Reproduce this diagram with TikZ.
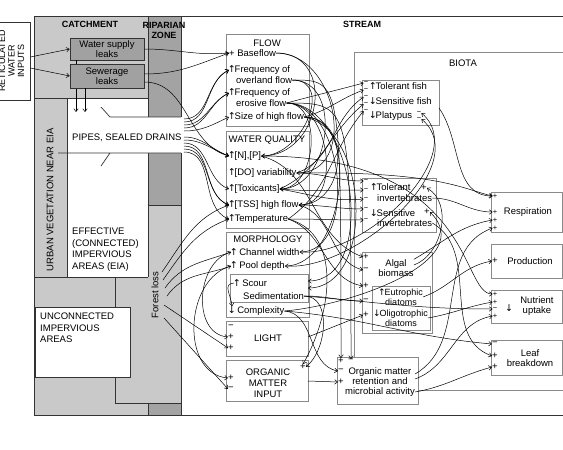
\documentclass[tikz,border=0pt]{standalone}
\usepackage{fontspec}
\setmainfont{Liberation Sans}
\newfontfamily\arwfont{DejaVu Sans}
\usetikzlibrary{arrows.meta,positioning,calc}
\definecolor{Catch}{HTML}{C9C9C9}
\definecolor{Ripar}{HTML}{A3A3A3}
\definecolor{Frame}{HTML}{333333}
\definecolor{BoxLine}{HTML}{8A8A8A}
\newcommand\fs{\fontsize{9.5}{10}\selectfont}
\newcommand\fc{\fontsize{9.5}{11.5}\selectfont}
\newcommand\up{\makebox[5.5pt][c]{\arwfont ↑}}
\newcommand\dn{\makebox[5.5pt][c]{\arwfont ↓}}
\tikzset{
 zone/.style={draw=Frame,line width=.7pt},
 grp/.style={draw=BoxLine,line width=.6pt,fill=white},
 leak/.style={draw=Frame,fill=Catch!80!black,line width=.6pt,align=center,font=\fs,minimum width=74pt,inner sep=0pt},
 hd/.style={font=\fontsize{9}{10}\selectfont\bfseries,inner sep=0pt,align=center},
 ttl/.style={font=\fs,inner sep=0pt,align=center},
 itm/.style={font=\fs,inner sep=0pt,anchor=west},
 sg/.style={font=\fs,inner sep=0pt},
 sgs/.style={font=\fontsize{7.5}{7.5}\selectfont,inner sep=0pt},
 lbl/.style={font=\fc,inner sep=0pt,align=left},
 arr/.style={-{Straight Barb[length=3pt,width=4.5pt]},line width=.5pt},
}
\begin{document}
\begin{tikzpicture}[x=1pt,y=-1pt]
\useasboundingbox (0,0) rectangle (563,450);
% catchment and riparian zone
\fill[Catch] (34,16) rectangle (181,415);
\fill[Ripar] (148,16) rectangle (181,117);
\fill[Ripar] (148,153) rectangle (181,205);
\fill[Ripar] (148,403) rectangle (181,415);
\fill[white] (67,98) rectangle (148,277) (148,117) rectangle (181,153);
\draw[zone] (563,16) -- (34,16) -- (34,415) -- (563,415);
\draw[zone] (181,16) -- (181,117) (181,153) -- (181,415);
\draw[zone] (148,16) -- (148,117) (34,98) -- (148,98) (67,98) -- (67,277) (34,277) -- (148,277) (148,153) -- (148,277) (148,205) -- (181,205);
\draw[zone] (115,277) -- (115,403) -- (181,403) (148,403) -- (148,415);
\draw[zone] (101,107) -- (110,117) -- (181,117) (58,153) -- (181,153) (110,153) -- (101,166);
\draw[zone,fill=white] (35,307) rectangle (130,377);
\node[zone,fill=white,minimum width=44pt,minimum height=78pt,inner sep=0pt] (rwb) at (8,61) {};
\node[font=\fontsize{9}{9.5}\selectfont,rotate=90,align=center,inner sep=0pt] (rwt) at (11.5,61) {RETICULATED\\WATER\\INPUTS};
\node[hd] (catch) at (90,24) {CATCHMENT};
\node[hd] (ripz) at (164,30) {RIPARIAN\\ZONE};
\node[hd] (strm) at (362,24) {STREAM};
\node[leak,minimum height=22pt] (wsl) at (107,49) {Water supply\\leaks};
\coordinate (pin1) at (76,112);
\coordinate (pin2) at (85,112);
\draw[arr] (wsl.south -| pin1) -- (pin1);
\node[leak,minimum height=24pt] (swl) at (107,76) {Sewerage\\leaks};
\draw[arr] (swl.south -| pin2) -- (pin2);
\draw[arr] ([yshift=4pt]rwb.east) -- (wsl.west);
\draw[arr] ([yshift=-7pt]rwb.east) -- (swl.west);
\node[lbl,anchor=west] (pip) at (72,138) {PIPES, SEALED DRAINS};
\node[lbl,rotate=90] (veg) at (50,200) {URBAN VEGETATION NEAR EIA};
\node[lbl,anchor=north west] (eia) at (72,228) {EFFECTIVE\\(CONNECTED)\\IMPERVIOUS\\AREAS (EIA)};
\node[lbl,anchor=north west] (uia) at (40,313) {UNCONNECTED\\IMPERVIOUS\\AREAS};
\node[lbl,rotate=90] (fst) at (155,295) {Forest loss};

% stream groups
\draw[grp] (226,34) rectangle (309,126);
\draw[grp] (226,131) rectangle (309,228);
\draw[grp] (226,232) rectangle (309,317);
\draw[grp] (230,274) rectangle (308,302);
\draw[grp] (226,321) rectangle (308,356);
\draw[grp] (226,360) rectangle (308,401);
\draw[grp] (354,52) rectangle (580,390);
\draw[grp] (362,80) rectangle (439,125);
\draw[grp] (362,178) rectangle (436,232);
\draw[grp] (362,252) rectangle (432,333);
\draw[grp] (372,286) rectangle (430,330);
\draw[grp] (337,357) rectangle (418,404);
\draw[grp] (491,192) rectangle (562,232);
\draw[grp] (491,244) rectangle (562,278);
\draw[grp] (491,290) rectangle (562,323);
\draw[grp] (491,340) rectangle (562,375);

\node[ttl] (flw) at (267,43) {FLOW};
\node[itm] (bsf) at (229,53) {+ Baseflow};
\node[itm] (ovl) at (229,70) {\up Frequency of};
\node[itm] (ovl2) at (236,80) {overland flow};
\node[itm] (ero) at (229,93) {\up Frequency of};
\node[itm] (ero2) at (236,103) {erosive flow};
\node[itm] (hif) at (229,117) {\up Size of high flow};
\node[ttl] (wqt) at (267,140) {WATER QUALITY};
\node[itm] (np) at (229,156) {\up[N],[P]};
\node[itm] (dov) at (229,173) {\up[DO] variability};
\node[itm] (tox) at (229,189) {\up[Toxicants]};
\node[itm] (tss) at (229,205) {\up[TSS] high flow};
\node[itm] (tmp) at (229,219) {\up Temperature};
\node[ttl] (mot) at (268,239) {MORPHOLOGY};
\node[itm] (chw) at (231,252) {\up\ Channel width};
\node[itm] (pod) at (231,266) {\up\ Pool depth};
\node[itm] (scr) at (234,283) {\up\ Scour};
\node[itm] (sed) at (243,296) {Sedimentation};
\node[itm] (cpx) at (229,311) {\dn\ Complexity};
\node[ttl] (lgt) at (268,338) {LIGHT};
\node[sg] (l1) at (231,327) {−};
\node[sg] (l2) at (231,337) {+};
\node[sg] (l3) at (231,348) {+};
\node[ttl,font=\fontsize{9.5}{11}\selectfont] (omi) at (268,383) {ORGANIC\\MATTER\\INPUT};
\node[sg] (o1) at (231,378) {+};
\node[sg] (o2) at (231,389) {−};
\node[sg] (o3) at (303,367) {+};
\coordinate (lgo) at (308,337);
\coordinate (omo) at (308,381);
\coordinate (scb) at (308,281);
\coordinate (scb2) at (308,288);

% biota and functions
\node[ttl] (biot) at (463,63) {BIOTA};
\node[itm] (tfs) at (370,86) {\up Tolerant fish};
\node[itm] (sfs) at (370,101) {\dn Sensitive fish};
\node[itm] (pla) at (370,116) {\dn Platypus};
\foreach \n/\y in {1/83,2/90,3/97,4/104,5/111}
 \node[sgs] (fd\n) at (366,\y) {−};
\node[sgs] (pl1) at (419,113) {−};
\node[sgs] (pl2) at (419,119) {−};
\coordinate (fso) at (439,108);
\node[itm] (tiv) at (371,187) {\up Tolerant};
\node[itm] (tiv2) at (377,198) {invertebrates};
\node[itm] (siv) at (371,213) {\dn Sensitive};
\node[itm] (siv2) at (377,223) {invertebrates};
\foreach \n/\y in {1/181,2/190,3/199,4/209,5/220}
 \node[sgs] (id\n) at (366,\y) {−};
\node[sg] (ip1) at (424,188) {+};
\node[sg] (ip2) at (427,212) {+};
\node[ttl] (alg) at (396,268) {Algal\\biomass};
\foreach \n/\y/\s in {1/257/+,2/270/−,3/286/+,4/301/−,5/315/+}
 \node[sg] (ad\n) at (366,\y) {\s};
\node[ttl,font=\fontsize{9}{10}\selectfont] (eud) at (401,297) {\up Eutrophic\\diatoms};
\node[ttl,font=\fontsize{9}{10}\selectfont] (old) at (401,318) {\dn Oligotrophic\\diatoms};
\node[ttl] (omr) at (380,382) {Organic matter\\retention and\\microbial activity};
\node[sg] (or1) at (341,361) {+};
\node[sg] (or2) at (351,361) {−};
\node[sg] (or3) at (341,371) {−};
\node[sg] (or4) at (341,382) {+};
\node[ttl] (rsp) at (528,212) {Respiration};
\foreach \n/\y in {1/196,2/212,3/220,4/228}
 \node[sgs] (rp\n) at (495,\y) {+};
\node[ttl] (prd) at (530,261) {Production};
\node[sg] (pr1) at (495,261) {+};
\node[ttl] (nut) at (537,306) {Nutrient\\uptake};
\node[sg] (dwn) at (509,308) {\dn};
\foreach \n/\y/\s in {1/294/+,2/302/+,3/309/−,4/316/+}
 \node[sgs] (nu\n) at (495,\y) {\s};
\node[ttl] (lfb) at (530,358) {Leaf\\breakdown};
\foreach \n/\y/\s in {1/344/−,2/356/+,3/367/+}
 \node[sg] (lf\n) at (495,\y) {\s};

% catchment to stream
\draw[arr] (wsl.east) to[out=0,in=185] (bsf.west);
\draw[arr] ([yshift=2pt]swl.east) to[out=0,in=200] (bsf.west);
\draw[arr] ([yshift=-6pt]swl.east) to[out=0,in=165] (np.west);
\foreach \n/\y in {1/119,2/122,3/125,4/128,5/131}
 \coordinate (pu\n) at (184,\y);
\foreach \n/\y in {1/137,2/140,3/143,4/146,5/149,6/152}
 \coordinate (pd\n) at (184,\y);
\foreach \src/\dst in {pu1/ovl,pu2/ovl,pu3/ero,pu4/ero,pu5/hif}
 \draw[arr] (\src) to[out=0,in=205] (\dst.west);
\foreach \src/\dst in {pd1/np,pd2/np,pd3/tox,pd4/tss,pd5/tss,pd6/tmp}
 \draw[arr] (\src) to[out=0,in=160] (\dst.west);
\foreach \n/\x/\y in {1/162/272,2/163/280,3/165/288,4/167/296}
 \coordinate (fr\n) at (\x,\y);
\foreach \src/\dst in {fr1/tss,fr2/tmp,fr3/chw,fr4/pod}
 \draw[arr] (\src) to[out=55,in=200] (\dst.west);
\coordinate (fs1) at (164,305);
\coordinate (fs2) at (164,318);
\draw[arr] (fs1) -- (l3.west);
\draw[arr] (fs2) -- (o2.west);

% within the stream
\draw[arr] (chw.west) to[out=195,in=175,looseness=1.1] (l2.west);
\draw[arr] (pod.west) to[out=195,in=175,looseness=1.1] (o1.west);
\draw[arr] (scr.west) to[out=185,in=95,looseness=1.3] ([xshift=3pt]cpx.north west);
\foreach \src/\dst/\lo in {bsf/np/1.5,bsf/dov/1.3,ovl2/np/1.3,ovl2/tox/1.2,ero2/tox/1.1,ero2/tss/1.1,ero2/chw/1.0,hif/tss/1.4,hif/pod/1.0}
 \draw[arr] (\src.east) to[out=0,in=0,looseness=\lo] (\dst.east);
\draw[arr] (ero2.east) to[out=0,in=0] (scb);
\draw[arr] (hif.east) to[out=-10,in=0] (scb2);
\foreach \src/\dst/\o/\i in {ero2/fd1/15/195,hif/fd2/15/200,dov/fd3/20/215,tox/fd4/25/220,tmp/fd5/35/230,dov/id1/0/180,tox/id2/-5/180,tox/id3/-10/185,tss/id4/0/180,tmp/id5/0/180,np/ad1/-15/160,tss/ad2/-15/165,tmp/ad3/-20/170,sed/ad4/0/180}
 \draw[arr] (\src.east) to[out=\o,in=\i] (\dst.west);
\draw[arr] (lgo) -- (ad5.west);
\draw[arr] (omo) -- (or4.west);
\draw[arr] (chw.east) to[out=-5,in=-40,looseness=0.9] (pl1.east);
\draw[arr] (pod.east) to[out=-5,in=-40,looseness=0.9] (pl2.east);
\draw[arr] ([yshift=3pt]alg.east) to[out=20,in=-30] (ip1.east);
\draw[arr] (cpx.east) to[out=5,in=-45] (ip2.east);
\draw[arr] (ovl2.east) .. controls (341,80) .. (or1.north);
\draw[arr] (ero2.east) .. controls (351,103) .. (or2.north);
\draw[arr] (cpx.east) to[out=-5,in=170] (or3.west);
\draw[arr] (tmp.east) to[out=-15,in=60] (o3.north);
\draw[arr] (sed.east) to[out=0,in=40] (o3.east);

% biota to functions
\draw[arr] (fso) to[out=-55,in=180] (rp1.west);
\draw[arr] (dov.east) .. controls (440,171) and (465,190) .. (rp1.west);
\draw[arr] (np.east) .. controls (475,156) and (460,294) .. (nu1.west);
\draw[arr] (tiv2.east) to[out=0,in=180] (rp2.west);
\draw[arr] (alg.north east) to[out=30,in=190] (rp3.west);
\draw[arr] (eud.east) to[out=20,in=190] (pr1.west);
\draw[arr] (old.east) to[out=10,in=190] (nu2.west);
\draw[arr] (sed.east) to[out=-5,in=180] (nu3.west);
\draw[arr] ([yshift=8pt]omr.east) to[out=30,in=200] (rp4.west);
\draw[arr] ([yshift=3pt]omr.east) to[out=20,in=190] (nu4.west);
\draw[arr] ([yshift=-10pt]omr.east) to[out=10,in=195] (lf3.west);
\draw[arr] (siv2.east) to[out=-30,in=160] (lf2.west);
\draw[arr] (cpx.east) to[out=-5,in=175] (lf1.west);
\end{tikzpicture}
\end{document}
